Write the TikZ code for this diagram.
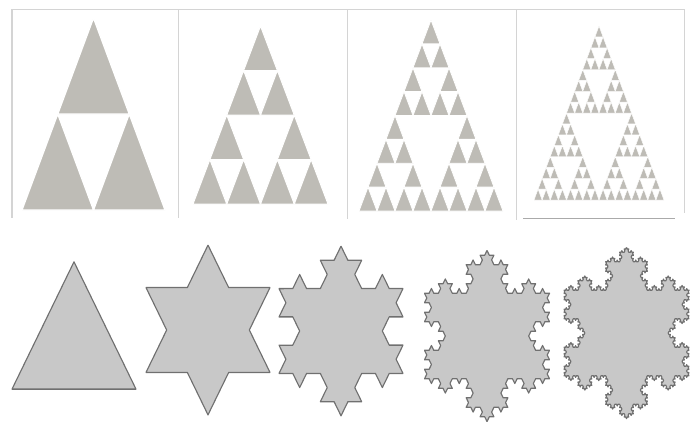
\documentclass[tikz,border=0pt]{standalone}
\usetikzlibrary{decorations.fractals}
\definecolor{sgray}{RGB}{190,188,182}
\definecolor{kfill}{RGB}{200,200,200}
\definecolor{kline}{RGB}{112,112,112}
\definecolor{fline}{RGB}{212,212,212}

% #1 level, #2 x left, #3 y of base, #4 width, #5 height (in pixels)
\newcommand\sierptri[5]{%
  \ifnum#1=0\relax
    \fill[tri] (#2,#3) -- ({#2+#4},#3) -- ({#2+#4/2},{#3-#5}) -- cycle;
  \else
    \begingroup
    \pgfmathsetmacro\hw{#4/2}\pgfmathsetmacro\hh{#5/2}%
    \pgfmathsetmacro\xr{#2+\hw}\pgfmathsetmacro\xt{#2+\hw/2}%
    \pgfmathsetmacro\yt{#3-\hh}\pgfmathtruncatemacro\lv{#1-1}%
    \edef\next{\noexpand\sierptri{\lv}{#2}{#3}{\hw}{\hh}%
      \noexpand\sierptri{\lv}{\xr}{#3}{\hw}{\hh}%
      \noexpand\sierptri{\lv}{\xt}{\yt}{\hw}{\hh}}%
    \next
    \endgroup
  \fi}

\begin{document}
\begin{tikzpicture}[x=1pt, y=-1pt,
    tri/.style={fill=sgray, draw=white},
    frame/.style={draw=fline, line width=1pt},
    koch/.style={fill=kfill, draw=kline, line width=1.1pt, line join=round},
    decoration=Koch snowflake]
    \useasboundingbox (0,0) rectangle (692,421);
    \def\ky{1.185}
    % Rahmen der Sierpinski-Reihe
    \draw[frame] (11,9) -- (684,9);
    \draw[frame, line width=2pt] (12,9) -- (12,218);
    \draw[frame] (178,9) -- (178,218);
    \draw[frame] (347,9) -- (347,219);
    \draw[frame] (516,9) -- (516,220);
    \draw[frame] (684,9) -- (684,213);
    \draw[frame, draw=fline!80!black] (523,218) -- (675,218);
    % Sierpinski-Dreiecke, Stufe 1 bis 4
    \begin{scope}[line width=1.3pt]\sierptri{1}{22}{210}{143}{192}\end{scope}
    \begin{scope}[line width=1pt]\sierptri{2}{193}{204}{135}{178}\end{scope}
    \begin{scope}[line width=0.8pt]\sierptri{3}{359}{211}{144}{191}\end{scope}
    \begin{scope}[line width=0.45pt]\sierptri{4}{534}{200}{130}{174}\end{scope}
    % Koch-Schneeflocke, Stufe 0 bis 4
    \begin{scope}[transform canvas={shift={(74,346.7)}, yscale=\ky}]
        \filldraw[koch] (0,-71.6) -- (62,35.8) -- (-62,35.8) -- cycle;
    \end{scope}
    \begin{scope}[transform canvas={shift={(208,330)}, yscale=\ky}]
        \filldraw[koch] decorate{(0,-71.6) -- (62,35.8) -- (-62,35.8) -- cycle};
    \end{scope}
    \begin{scope}[transform canvas={shift={(341,331)}, yscale=\ky}]
        \filldraw[koch] decorate{decorate{(0,-71.6) -- (62,35.8) -- (-62,35.8) -- cycle}};
    \end{scope}
    \begin{scope}[transform canvas={shift={(487,336)}, yscale=\ky}]
        \filldraw[koch] decorate{decorate{decorate{(0,-72.2) -- (62.5,36.1) -- (-62.5,36.1) -- cycle}}};
    \end{scope}
    \begin{scope}[transform canvas={shift={(626.5,333)}, yscale=\ky}]
        \filldraw[koch] decorate{decorate{decorate{decorate{(0,-72.2) -- (62.5,36.1) -- (-62.5,36.1) -- cycle}}}};
    \end{scope}
\end{tikzpicture}
\end{document}
